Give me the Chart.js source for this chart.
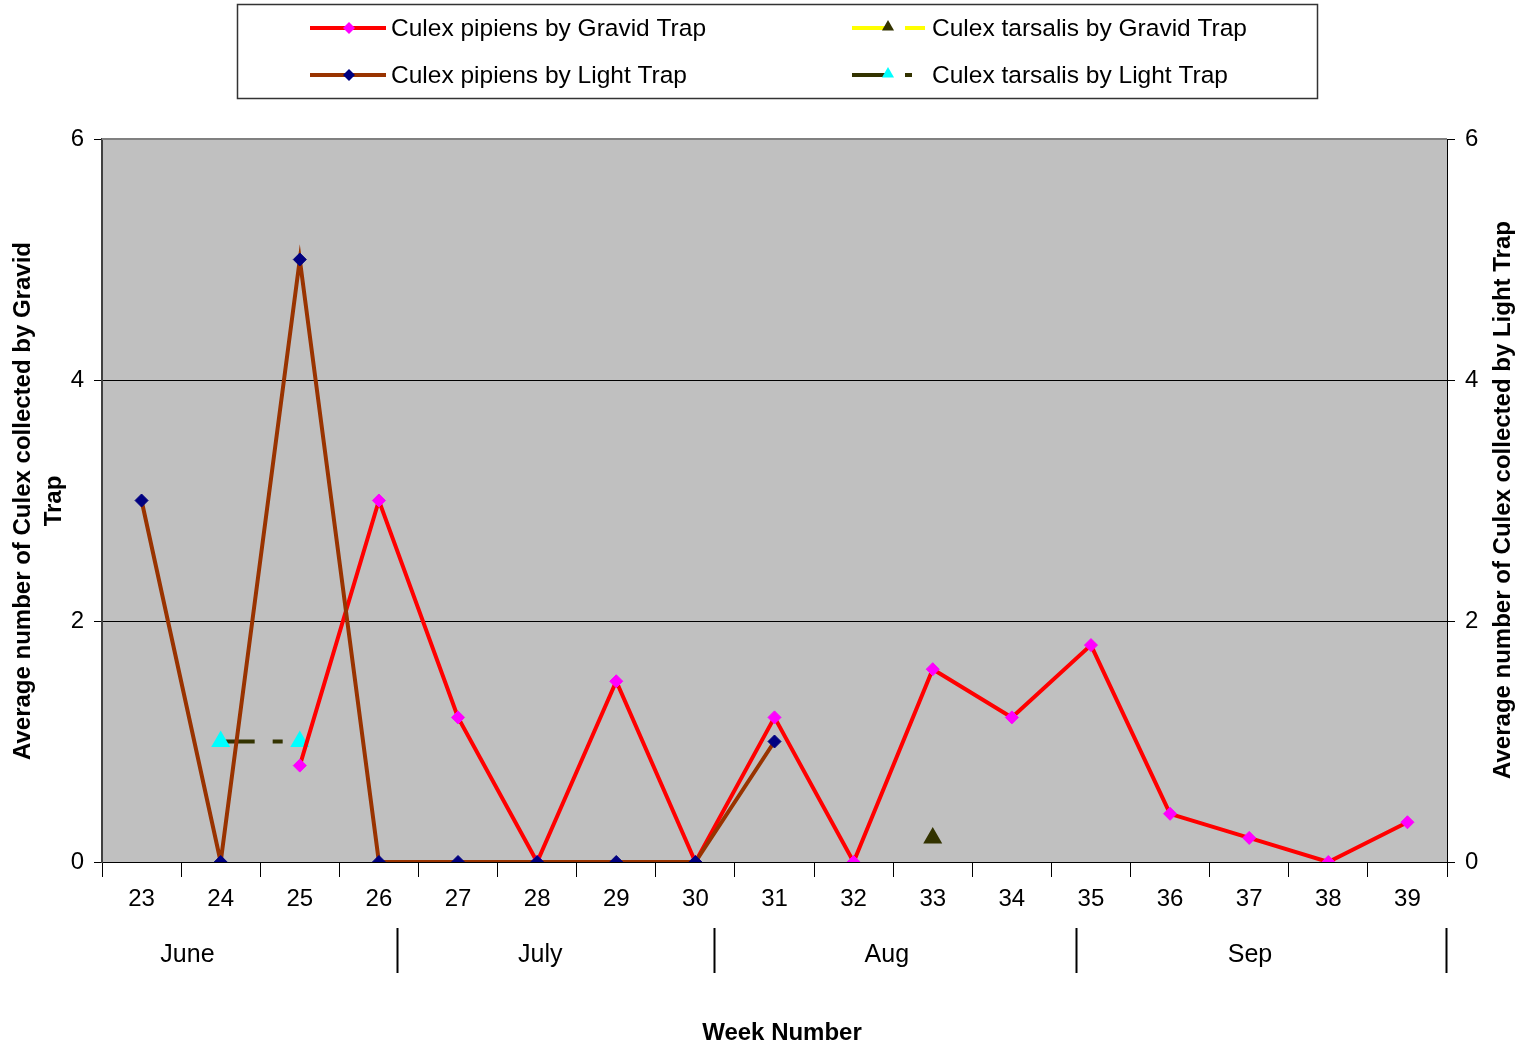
<!DOCTYPE html>
<html>
<head>
<meta charset="utf-8">
<script src="https://cdn.jsdelivr.net/npm/chart.js@4.4.1/dist/chart.umd.min.js"></script>
<style>
  html, body { margin: 0; padding: 0; background: #fff; }
  #wrap { position: relative; width: 1525px; height: 1049px; }
</style>
</head>
<body>
<div id="wrap"><canvas id="c" width="1525" height="1049"></canvas></div>
<script>
/* data */
var weeks = ['23','24','25','26','27','28','29','30','31','32','33','34','35','36','37','38','39'];
var pipiensGravid  = [null, null, 0.8, 3, 1.2, 0, 1.5, 0, 1.2, 0, 1.6, 1.2, 1.8, 0.4, 0.2, 0, 0.33];
var pipiensLight   = [3, 0, 5, 0, 0, 0, 0, 0, 1, null, null, null, null, null, null, null, null];
var tarsalisGravid = [null, null, null, null, null, null, null, null, null, null, 0.2, null, null, null, null, null, null];
var tarsalisLight  = [null, 1, 1, null, null, null, null, null, null, null, null, null, null, null, null, null, null];
var yTicks = [0, 2, 4, 6];
var months = ['June', 'July', 'Aug', 'Sep'];
var monthCenters = [23.58, 28.04, 32.42, 37.01];   // in week units
var monthEnds    = [26.23, 30.24, 34.81, 39.49];

var FONT = "'Liberation Sans', Arial, sans-serif";
var PLOT_BG = '#C0C0C0';

/* ---------- extra drawing: plot bg, months, titles, legend ---------- */
var decor = {
  id: 'decor',
  beforeDraw: function (chart) {
    var a = chart.chartArea, ctx = chart.ctx;
    ctx.save();
    ctx.fillStyle = PLOT_BG;
    ctx.fillRect(a.left, a.top, a.right - a.left, a.bottom - a.top);
    ctx.restore();
  },
  afterDraw: function (chart) {
    var ctx = chart.ctx, a = chart.chartArea, xs = chart.scales.x;
    ctx.save();
    // top border of plot
    ctx.strokeStyle = '#808080'; ctx.lineWidth = 2;
    ctx.beginPath(); ctx.moveTo(a.left, a.top); ctx.lineTo(a.right, a.top); ctx.stroke();

    // month row
    ctx.fillStyle = '#000'; ctx.font = '25px ' + FONT;
    ctx.textAlign = 'center'; ctx.textBaseline = 'middle';
    months.forEach(function (m, i) {
      ctx.fillText(m, xs.getPixelForValue(monthCenters[i] - 23), 955);
    });
    ctx.strokeStyle = '#000'; ctx.lineWidth = 2;
    monthEnds.forEach(function (w) {
      var px = Math.round(xs.getPixelForValue(w - 23)) + 0.5;
      ctx.beginPath(); ctx.moveTo(px, 928); ctx.lineTo(px, 973); ctx.stroke();
    });

    // axis titles
    ctx.font = 'bold 24px ' + FONT;
    ctx.fillText('Week Number', 782, 1033);
    ctx.save();
    ctx.translate(23, 501); ctx.rotate(-Math.PI / 2);
    ctx.fillText('Average number of Culex collected by Gravid', 0, 0);
    ctx.fillText('Trap', 0, 31);
    ctx.restore();
    ctx.save();
    ctx.translate(1503, 500); ctx.rotate(-Math.PI / 2);
    ctx.fillText('Average number of Culex collected by Light Trap', 0, 0);
    ctx.restore();

    // legend
    ctx.strokeStyle = '#333'; ctx.lineWidth = 1.5;
    ctx.strokeRect(237.5, 4.5, 1080, 94);
    ctx.font = '24.5px ' + FONT; ctx.textAlign = 'left';
    function seg(x1, x2, y, col) {
      ctx.strokeStyle = col; ctx.lineWidth = 4; ctx.setLineDash([]);
      ctx.beginPath(); ctx.moveTo(x1, y); ctx.lineTo(x2, y); ctx.stroke();
    }
    function mark(style, r, x, y, col) {
      ctx.fillStyle = col; ctx.strokeStyle = col; ctx.lineWidth = 1;
      Chart.helpers.drawPoint(ctx, { pointStyle: style, radius: r, rotation: 0 }, x, y);
    }
    seg(310, 386, 28, '#FF0000'); mark('rectRot', 6, 349, 28, '#FF00FF');
    seg(310, 386, 75, '#993300'); mark('rectRot', 6, 349, 75, '#000080');
    seg(852, 885, 28, '#FFFF00'); seg(905, 925, 28, '#FFFF00'); mark('triangle', 7, 888, 27, '#333300');
    seg(852, 885, 75, '#333300'); seg(905, 912, 75, '#333300'); mark('triangle', 7, 888, 74, '#00FFFF');
    ctx.fillStyle = '#000';
    ctx.fillText('Culex pipiens by Gravid Trap', 391, 29);
    ctx.fillText('Culex pipiens by Light Trap', 391, 76);
    ctx.fillText('Culex tarsalis by Gravid Trap', 932, 29);
    ctx.fillText('Culex tarsalis by Light Trap', 932, 76);
    ctx.restore();
  }
};

function yAxis(pos, width, gridOn) {
  return {
    type: 'linear', position: pos, min: 0, max: 6,
    afterBuildTicks: function (s) { s.ticks = yTicks.map(function (v) { return { value: v }; }); },
    afterFit: function (s) { s.width = width; },
    ticks: { color: '#000', font: { family: FONT, size: 24 }, padding: 10 },
    grid: {
      drawOnChartArea: gridOn,
      color: function (c) { return c.tick && c.tick.value === 6 ? '#808080' : '#000'; },
      tickColor: '#000', tickLength: 8, lineWidth: 1
    },
    border: { color: pos === 'left' ? '#404040' : '#000', width: pos === 'left' ? 2 : 1 }
  };
}

new Chart(document.getElementById('c'), {
  type: 'line',
  data: {
    labels: weeks,
    datasets: [
      { label: 'Culex pipiens by Gravid Trap', data: pipiensGravid, yAxisID: 'y',
        borderColor: '#FF0000', borderWidth: 4, pointStyle: 'rectRot', pointRadius: 6.5,
        pointBackgroundColor: '#FF00FF', pointBorderColor: '#FF00FF', pointBorderWidth: 1, order: 2 },
      { label: 'Culex tarsalis by Gravid Trap', data: tarsalisGravid, yAxisID: 'y',
        borderColor: '#FFFF00', borderWidth: 4, pointStyle: 'triangle', pointRadius: 7,
        pointBackgroundColor: '#333300', pointBorderColor: '#333300', order: 3 },
      { label: 'Culex pipiens by Light Trap', data: pipiensLight, yAxisID: 'y2',
        borderColor: '#993300', borderWidth: 4, pointStyle: 'rectRot', pointRadius: 6.5,
        pointBackgroundColor: '#000080', pointBorderColor: '#000080', pointBorderWidth: 1, order: 1 },
      { label: 'Culex tarsalis by Light Trap', data: tarsalisLight, yAxisID: 'y2',
        borderColor: '#333300', borderWidth: 4, borderDash: [34, 18, 10, 18], pointStyle: 'triangle', pointRadius: 7,
        pointBackgroundColor: '#00FFFF', pointBorderColor: '#00FFFF', order: 4 }
    ]
  },
  options: {
    responsive: false, animation: false,
    layout: { padding: { top: 139, left: 0, right: 0, bottom: 0 } },
    plugins: { legend: { display: false }, tooltip: { enabled: false } },
    elements: { line: { tension: 0 } },
    scales: {
      x: {
        type: 'category', offset: true,
        afterFit: function (s) { s.height = 187; },
        ticks: { color: '#000', font: { family: FONT, size: 24 }, padding: 8, maxRotation: 0 },
        grid: { offset: true, drawOnChartArea: false, tickColor: '#000', tickLength: 15 },
        border: { color: '#000', width: 1 }
      },
      y: yAxis('left', 102, true),
      y2: yAxis('right', 78, false)
    }
  },
  plugins: [decor]
});
</script>
</body>
</html>
